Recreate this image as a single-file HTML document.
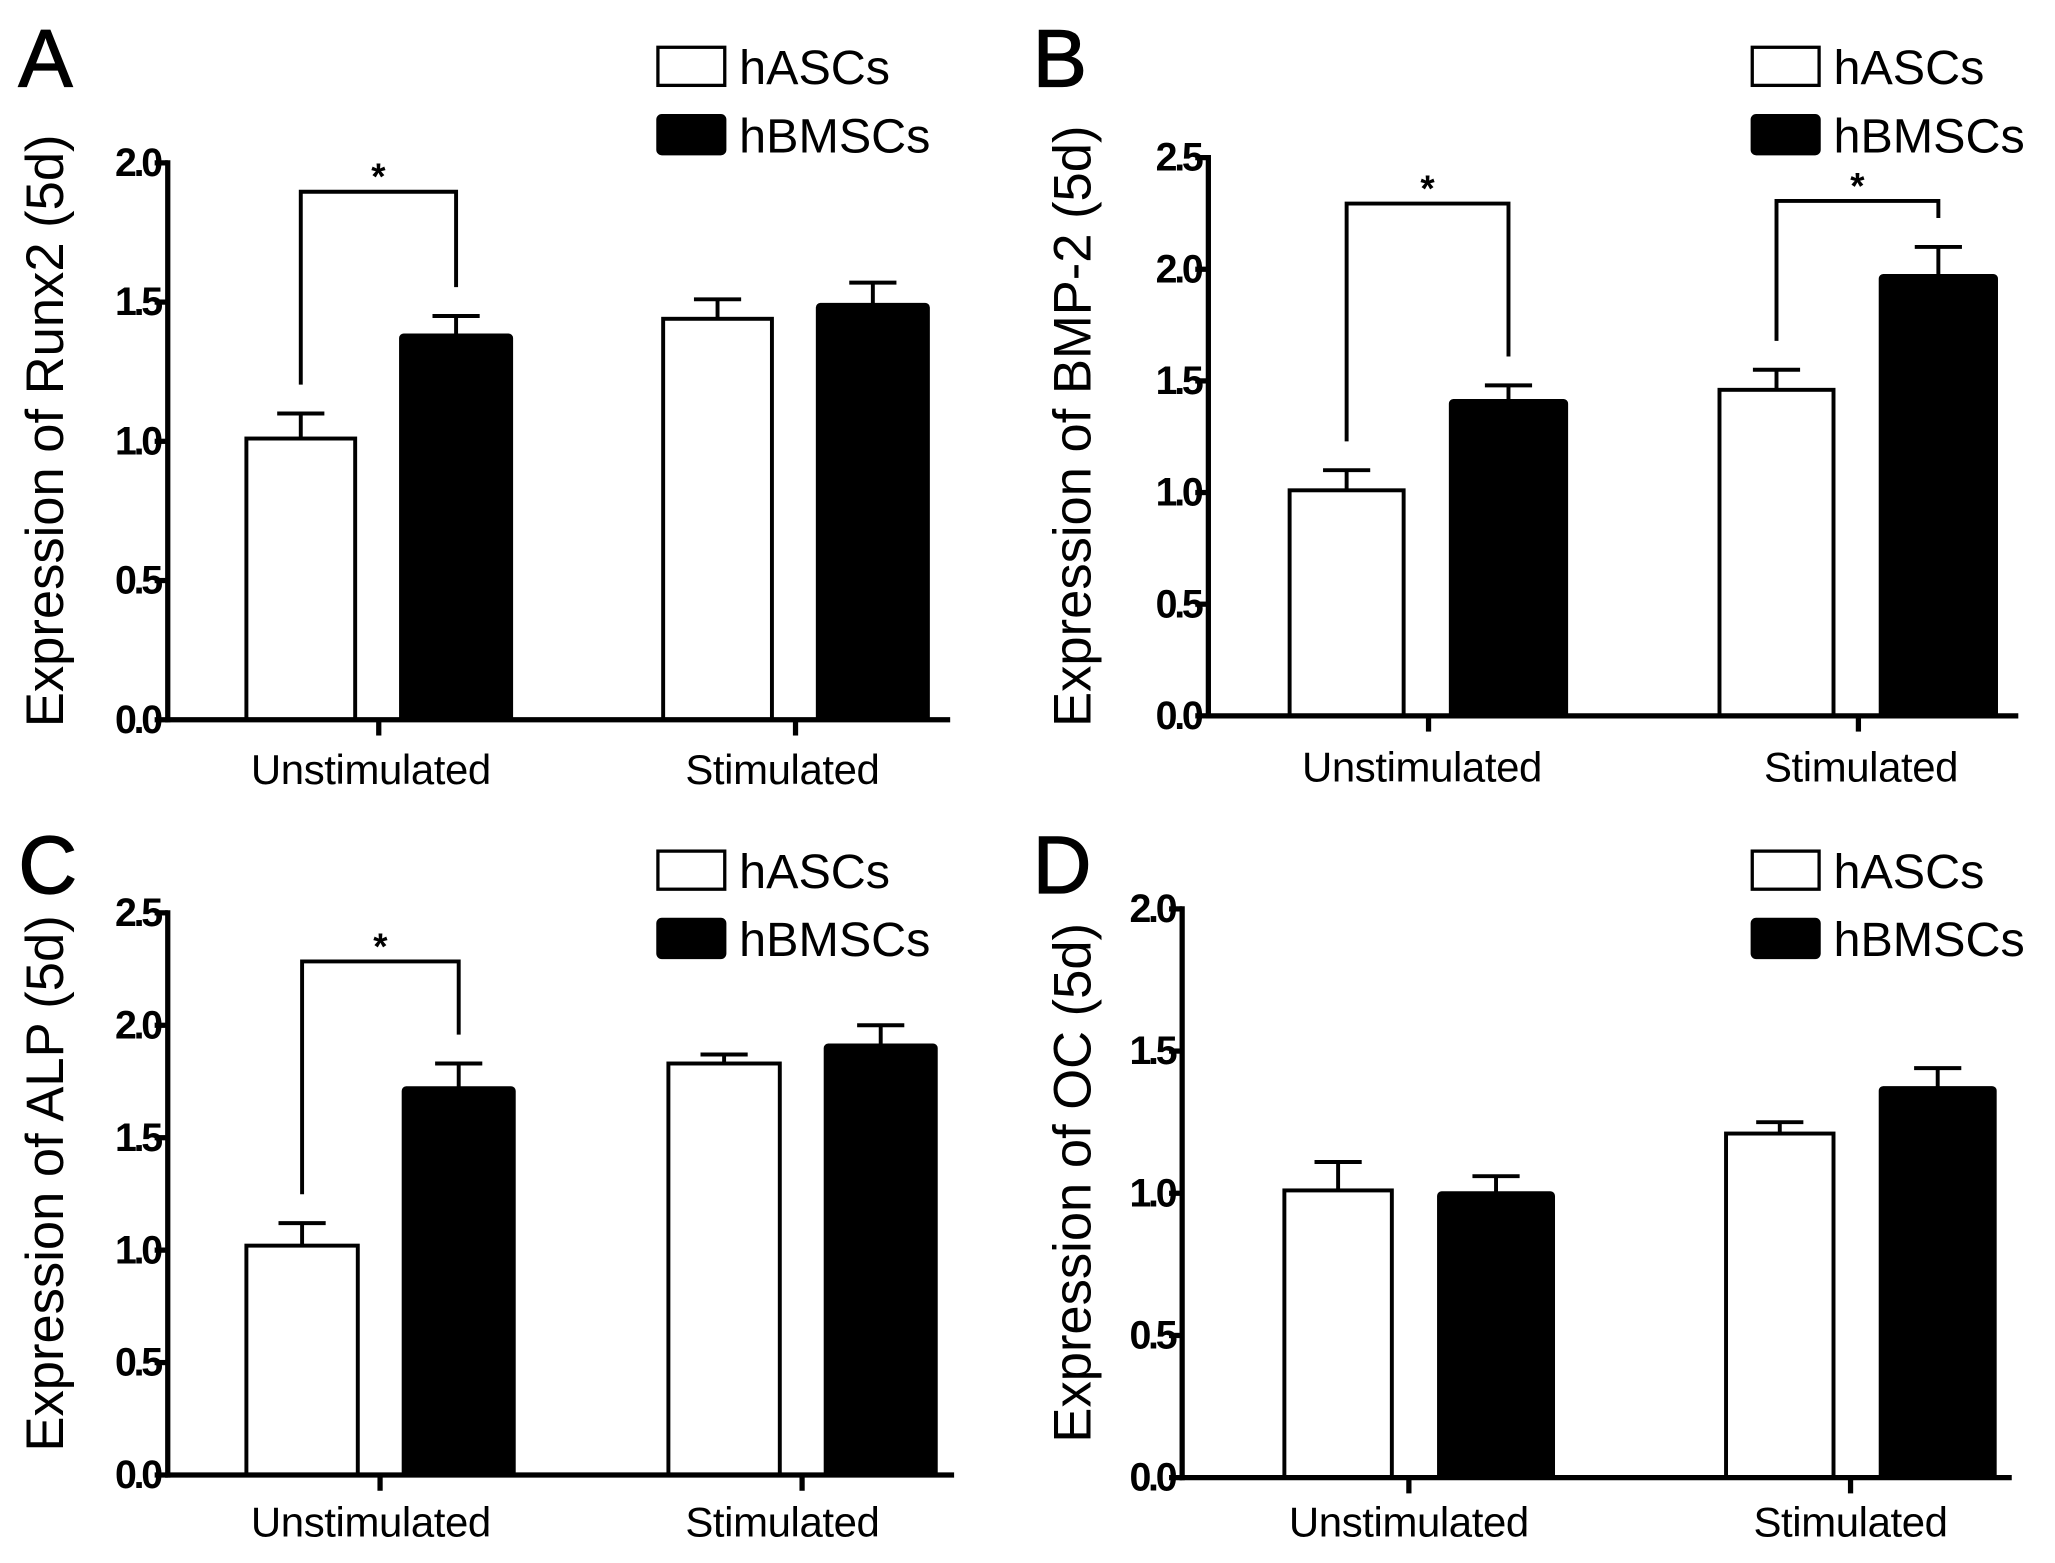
<!DOCTYPE html>
<html><head><meta charset="utf-8"><style>
html,body{margin:0;padding:0;background:#fff;}
svg{display:block;}
text{font-family:"Liberation Sans",sans-serif;fill:#000;}
</style></head><body>
<svg id="fig" width="2055" height="1563" viewBox="0 0 1568 1190" preserveAspectRatio="none" xmlns="http://www.w3.org/2000/svg"></svg>
<script>
const categories = ["Unstimulated", "Stimulated"];
const seriesNames = ["hASCs", "hBMSCs"];
const runx2Means = [[1.01, 1.44], [1.38, 1.49]];
const runx2Errors = [[0.09, 0.07], [0.07, 0.08]];
const bmp2Means = [[1.01, 1.46], [1.41, 1.97]];
const bmp2Errors = [[0.09, 0.09], [0.07, 0.13]];
const alpMeans = [[1.02, 1.83], [1.72, 1.91]];
const alpErrors = [[0.10, 0.04], [0.11, 0.09]];
const ocMeans = [[1.01, 1.21], [1.00, 1.37]];
const ocErrors = [[0.10, 0.04], [0.06, 0.07]];
const runx2Ticks = ["0.0", "0.5", "1.0", "1.5", "2.0"];
const bmp2Ticks = ["0.0", "0.5", "1.0", "1.5", "2.0", "2.5"];
const alpTicks = ["0.0", "0.5", "1.0", "1.5", "2.0", "2.5"];
const ocTicks = ["0.0", "0.5", "1.0", "1.5", "2.0"];

const NS = "http://www.w3.org/2000/svg";
const svg = document.getElementById("fig");
function mk(tag, attrs, parent, txt) {
  const e = document.createElementNS(NS, tag);
  for (const k in attrs) e.setAttribute(k, attrs[k]);
  if (txt !== undefined) e.textContent = txt;
  (parent || svg).appendChild(e);
  return e;
}

const panels = [
  {id:"a", letter:"A", title:"Expression of Runx2 (5d)", means:runx2Means, errs:runx2Errors, ticks:runx2Ticks, max:2.0,
   ax:128, y0:548, ytop:124, xend:725, catX:[289,607], barOff:[[-101,-18],[17,101]], labelX:[283,597], labelY:585, titleX:36,
   legY:36, legX:502, letterX:14, letterY:66, sig:[{cat:0, top:146}]},
  {id:"b", letter:"B", title:"Expression of BMP-2 (5d)", means:bmp2Means, errs:bmp2Errors, ticks:bmp2Ticks, max:2.5,
   ax:922, y0:545, ytop:120, xend:1540, catX:[1090,1418], barOff:[[-106,-19],[17,105]], labelX:[1085,1420], labelY:583, titleX:820,
   legY:36, legX:1337, letterX:788, letterY:66, sig:[{cat:0, top:155},{cat:1, top:153}]},
  {id:"c", letter:"C", title:"Expression of ALP (5d)", means:alpMeans, errs:alpErrors, ticks:alpTicks, max:2.5,
   ax:128, y0:1123, ytop:695, xend:728, catX:[290,612], barOff:[[-102,-17],[18,102]], labelX:[283,597], labelY:1158, titleX:36,
   legY:648, legX:502, letterX:14, letterY:680, sig:[{cat:0, top:732}]},
  {id:"d", letter:"D", title:"Expression of OC (5d)", means:ocMeans, errs:ocErrors, ticks:ocTicks, max:2.0,
   ax:902, y0:1125, ytop:692, xend:1535, catX:[1075,1412], barOff:[[-95,-13],[23,110]], labelX:[1075,1412], labelY:1158, titleX:820,
   legY:648, legX:1337, letterX:788, letterY:680, sig:[]}
];

panels.forEach(p => {
  const g = mk("g", {});
  
  
  const y = v => p.y0 - (v / p.max) * (p.y0 - p.ytop);
  const lt = mk("text", {x:p.letterX, y:p.letterY, "font-size":62, stroke:"#000", "stroke-width":1}, g, p.letter);
  
  
  p.means.forEach((ser, s) => {
    ser.forEach((v, c) => {
      const x1 = p.catX[c] + p.barOff[s][0], x2 = p.catX[c] + p.barOff[s][1];
      const cx = (x1 + x2) / 2;
      const ev = v + p.errs[s][c];
      const el = mk("line", {x1:cx, x2:cx, y1:y(v), y2:y(ev), stroke:"#000", "stroke-width":3}, g);
      
      
      const cap = mk("line", {x1:cx-18, x2:cx+18, y1:y(ev), y2:y(ev), stroke:"#000", "stroke-width":3}, g);
      
      
      const r = mk("rect", {x:x1, y:y(v), width:x2-x1, height:p.y0-y(v), fill:s?"#000":"#fff", stroke:"#000", "stroke-width":3, rx:s?2:0}, g);
      
      
    });
  });
  const ya = mk("line", {x1:p.ax, x2:p.ax, y1:p.ytop-2, y2:p.y0+2, stroke:"#000", "stroke-width":4}, g);
  
  
  const xa = mk("line", {x1:p.ax-2, x2:p.xend, y1:p.y0, y2:p.y0, stroke:"#000", "stroke-width":4}, g);
  
  
  p.ticks.forEach(t => {
    const ty = y(parseFloat(t));
    const tk = mk("line", {x1:p.ax-10, x2:p.ax, y1:ty, y2:ty, stroke:"#000", "stroke-width":4}, g);
    
    
    const tl = mk("text", {x:p.ax-6, y:ty+10, "font-size":30, "font-weight":"bold", "text-anchor":"end", "letter-spacing":"-2.5"}, g, t);
    
    
  });
  categories.forEach((c, i) => {
    const tk = mk("line", {x1:p.catX[i], x2:p.catX[i], y1:p.y0, y2:p.y0+12, stroke:"#000", "stroke-width":4}, g);
    
    
    const cl = mk("text", {x:p.labelX[i], y:p.labelY+12, "font-size":32, "text-anchor":"middle", "letter-spacing":"-0.3"}, g, c);
    
    
  });
  const yt = mk("text", {x:0, y:0, "font-size":40, "text-anchor":"middle", transform:`translate(${p.titleX+12},${(p.y0+p.ytop)/2-8}) rotate(-90)`}, g, p.title);
  
  
  seriesNames.forEach((n, s) => {
    const ly = p.legY + s * 52;
    const lb = mk("rect", {x:p.legX, y:ly, width:51, height:29, fill:s?"#000":"#fff", stroke:"#000", "stroke-width":2.5, rx:s?3:0}, g);
    
    
    const lx = mk("text", {x:p.legX+62, y:ly+28, "font-size":37}, g, n);
    
    
  });
  p.sig.forEach(sg => {
    const c = sg.cat;
    const xL = p.catX[c] + (p.barOff[0][0] + p.barOff[0][1]) / 2;
    const xR = p.catX[c] + (p.barOff[1][0] + p.barOff[1][1]) / 2;
    const yL = y(p.means[0][c] + p.errs[0][c]) - 22;
    const yR = y(p.means[1][c] + p.errs[1][c]) - 22;
    const br = mk("polyline", {points:`${xL},${yL} ${xL},${sg.top} ${xR},${sg.top} ${xR},${yR}`, fill:"none", stroke:"#000", "stroke-width":3}, g);
    
    
    const st = mk("text", {x:(xL+xR)/2, y:sg.top-2, "font-size":28, "font-weight":"bold", "text-anchor":"middle"}, g, "*");
    
    
  });
});
</script>
</body></html>
